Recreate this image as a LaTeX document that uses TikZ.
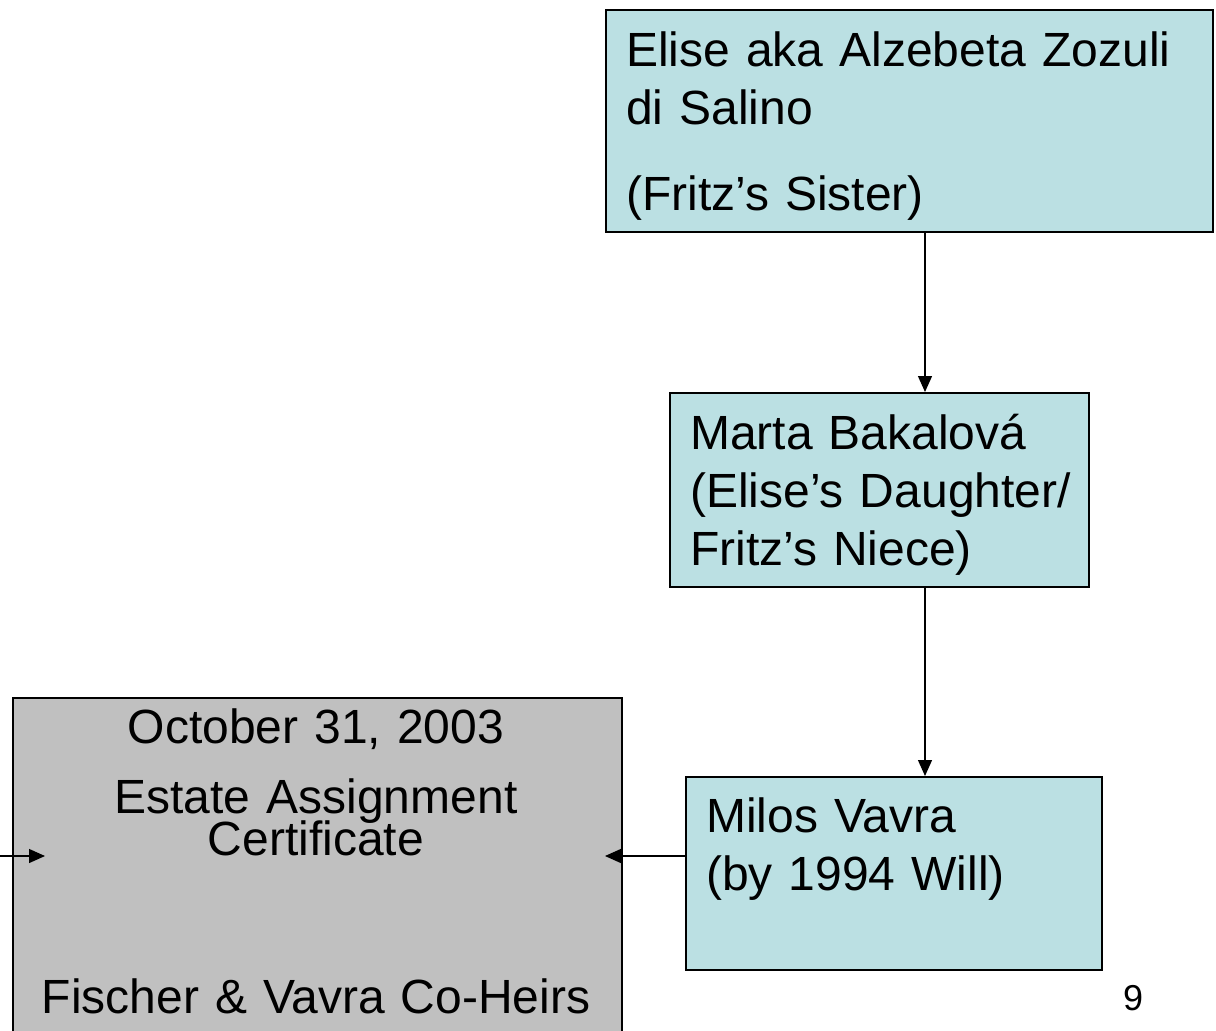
\documentclass[tikz,border=0pt]{standalone}
\usepackage{fontspec}
\setmainfont{Liberation Sans}
\usepackage{tikz}
\usetikzlibrary{arrows.meta}
\definecolor{heirblue}{RGB}{187,224,227}
\definecolor{certgrey}{RGB}{192,192,192}

\begin{document}
\begin{tikzpicture}[x=1pt,y=-1pt]
			\tikzstyle{every node}=[font=\fontsize{48}{58}\selectfont]
			\tikzstyle{heirbox}=[draw=black, line width=1.6pt, fill=heirblue, anchor=north west, inner sep=0pt]
			\tikzstyle{certbox}=[heirbox, fill=certgrey]
			\tikzstyle{heirtxt}=[anchor=base west, align=left, inner sep=0pt, text width=590pt]
			\tikzstyle{certtxt}=[anchor=base, align=center, inner sep=0pt, text width=600pt]
			\tikzstyle{arr}=[line width=1.3pt, -{Triangle[length=16pt,width=14pt]}]
			
			\clip (0,0) rectangle (1216,1031);
			
			% boxes
			\node[heirbox, minimum width=607pt, minimum height=222pt] (elise) at (605,9) {};
			\node[heirbox, minimum width=419pt, minimum height=194pt] (marta) at (669,392) {};
			\node[heirbox, minimum width=416pt, minimum height=193pt] (milos) at (685,776) {};
			\node[certbox, minimum width=609pt, minimum height=360pt] (cert) at (12,697) {};
			
			\node[heirtxt] (elise-t) at (626,66) {Elise aka Alzebeta Zozuli\\di Salino\\[28pt](Fritz's Sister)};
			\node[heirtxt] (marta-t) at (690,449) {Marta Bakalová\\(Elise's Daughter/\\Fritz's Niece)};
			\node[heirtxt] (milos-t) at (706,832) {Milos Vavra\\(by 1994 Will)};
			\node[certtxt] (cert-t) at (316,743) {October 31, 2003\\[12pt]Estate Assignment\\[-16pt]Certificate\\[100pt]Fischer \& Vavra Co-Heirs};
			
			\node[font=\fontsize{36}{40}\selectfont] (pagenum) at (1133,998) {9};
			
			% connectors
			\coordinate (trunk) at (925,0);
			\coordinate (cert-r) at (605,856);
			\coordinate (lft) at (0,856);
			\coordinate (cert-l) at (45,856);
			\draw[arr] (elise.south -| trunk) -- (marta.north -| trunk);
			\draw[arr] (marta.south -| trunk) -- (milos.north -| trunk);
			\draw[arr] (milos.west |- cert-r) -- (cert-r);
			\draw[arr] (lft) -- (cert-l);
			
\end{tikzpicture}
\end{document}
